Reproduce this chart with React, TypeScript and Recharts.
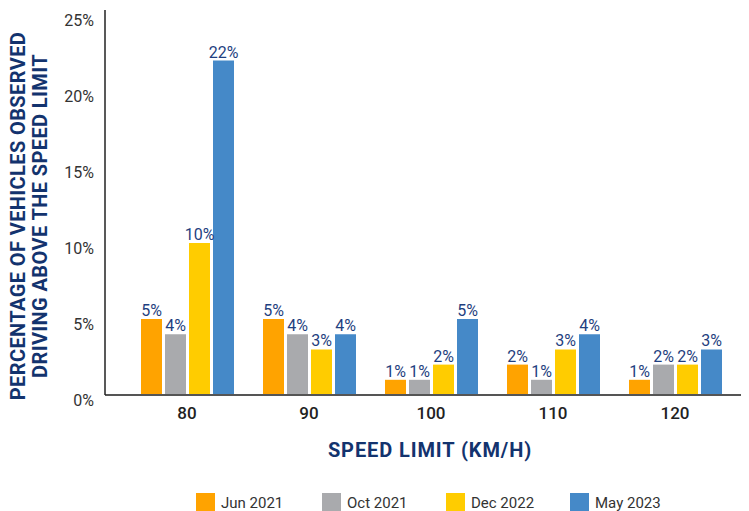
import React from 'react';
import { BarChart, Bar, XAxis, YAxis, LabelList, Legend } from 'recharts';

const speedLimits = ['80', '90', '100', '110', '120'];
const jun2021 = [5, 5, 1, 2, 1];
const oct2021 = [4, 4, 1, 1, 2];
const dec2022 = [10, 3, 2, 3, 2];
const may2023 = [22, 4, 5, 4, 3];
const yTicks = [0, 5, 10, 15, 20, 25];

const seriesNames = ['Jun 2021', 'Oct 2021', 'Dec 2022', 'May 2023'];
const seriesKeys = ['jun2021', 'oct2021', 'dec2022', 'may2023'];
const seriesColors = ['#FFA300', '#A9AAAD', '#FFCC00', '#4589C8'];

const data = speedLimits.map((s, i) => ({
  speed: s,
  jun2021: jun2021[i],
  oct2021: oct2021[i],
  dec2022: dec2022[i],
  may2023: may2023[i],
}));

const FONT = 'Roboto, "DejaVu Sans", sans-serif';
const NAVY = '#13336E';

const YTick = (props: any) => {
  const { x, y, payload } = props;
  return (
    <text x={x} y={y + 5} textAnchor="end" dominantBaseline="central" fontFamily={FONT} fontSize={16} fill="#333">
      {payload.value}%
    </text>
  );
};

const XTick = (props: any) => {
  const { x, y, payload } = props;
  return (
    <text x={x} y={y + 16} textAnchor="middle" dominantBaseline="central" fontFamily={FONT} fontSize={17} fontWeight={500} fill="#222">
      {payload.value}
    </text>
  );
};

const YTitle = () => (
  <g transform="translate(0,208) rotate(-90)">
    <text textAnchor="middle" fontFamily={FONT} fontSize={20} fontWeight={700} letterSpacing={0.4} fill={NAVY}>
      <tspan x={0} y={25}>PERCENTAGE OF VEHICLES OBSERVED</tspan>
      <tspan x={0} y={47}>DRIVING ABOVE THE SPEED LIMIT</tspan>
    </text>
  </g>
);

const XTitle = (props: any) => {
  const { viewBox } = props;
  const cx = viewBox.x + viewBox.width / 2;
  return (
    <text x={cx + 3} y={viewBox.y + 55} textAnchor="middle" dominantBaseline="central" fontFamily={FONT} fontSize={20} fontWeight={700} letterSpacing={0.9} fill={NAVY}>
      SPEED LIMIT (KM/H)
    </text>
  );
};

const legendWidths = [126, 124, 124, 110];

const LegendContent = () => (
  <div style={{ display: 'flex', height: 19, paddingLeft: 188, fontFamily: FONT, fontSize: 15, color: '#333' }}>
    {seriesNames.map((n, i) => (
      <div key={n} style={{ display: 'flex', alignItems: 'center', width: legendWidths[i] }}>
        <span style={{ display: 'inline-block', width: 19, height: 19, background: seriesColors[i] }} />
        <span style={{ marginLeft: 6 }}>{n}</span>
      </div>
    ))}
  </div>
);

export default function App() {
  return (
    <div style={{ width: 749, height: 504, marginLeft: -8 }}>
      <style>{'body{overflow:hidden}'}</style>
      <BarChart
        width={749}
        height={504}
        data={data}
        margin={{ top: 2, right: 0, bottom: 0, left: 8 }}
        barSize={21}
        barGap={3}
      >
        {seriesKeys.map((k, i) => (
          <Bar key={k} dataKey={k} name={seriesNames[i]} fill={seriesColors[i]} isAnimationActive={false}>
            <LabelList
              dataKey={k}
              position="top"
              offset={3}
              formatter={(v: any) => `${v}%`}
              style={{ fontFamily: FONT, fontSize: 16, fill: '#1F3F80' }}
            />
          </Bar>
        ))}
        <XAxis
          dataKey="speed"
          height={98}
          padding={{ left: 21, right: 13 }}
          tickLine={false}
          tickSize={0}
          tick={<XTick />}
          axisLine={{ stroke: '#555', strokeWidth: 2 }}
          label={<XTitle />}
        />
        <YAxis
          width={97}
          domain={[0, 25]}
          ticks={yTicks}
          interval={0}
          padding={{ top: 5 }}
          tickLine={false}
          tickSize={0}
          tickMargin={11}
          tick={<YTick />}
          axisLine={{ stroke: '#222', strokeWidth: 1.5 }}
        />
        <Legend verticalAlign="bottom" content={<LegendContent />} />
        <YTitle />
      </BarChart>
    </div>
  );
}
